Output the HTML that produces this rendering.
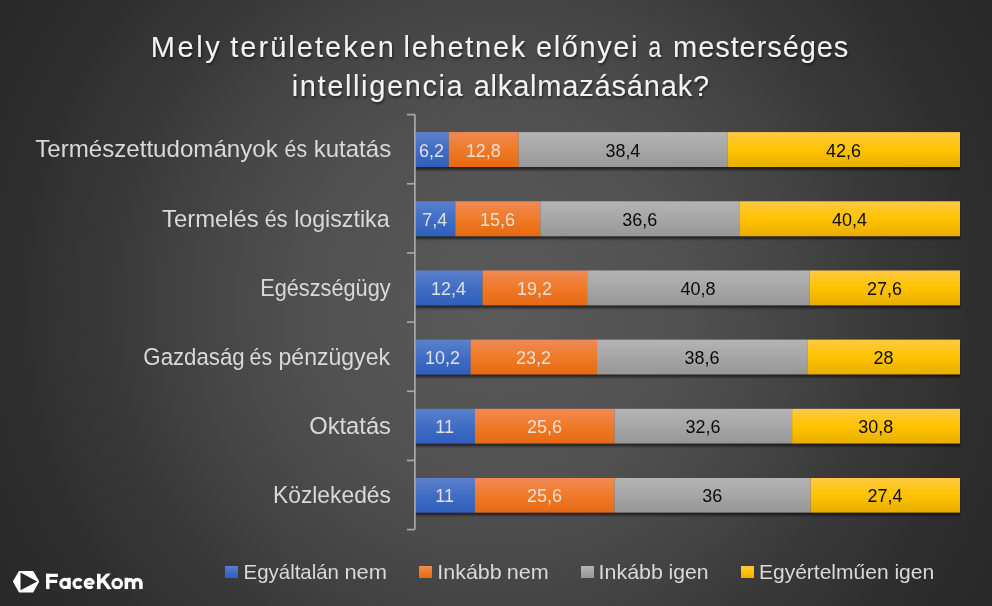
<!DOCTYPE html><html><head><meta charset="utf-8"><style>html,body{margin:0;padding:0;background:#333;}svg{display:block;}text{font-family:"Liberation Sans",sans-serif;}svg{will-change:transform;}</style></head><body>
<svg width="992" height="606" viewBox="0 0 992 606">
<defs>
<radialGradient id="bg" cx="496" cy="303" r="580" gradientUnits="userSpaceOnUse"><stop offset="0" stop-color="rgb(90,90,90)"/><stop offset="0.267" stop-color="rgb(82,82,82)"/><stop offset="0.32" stop-color="rgb(81,81,81)"/><stop offset="0.51" stop-color="rgb(69,69,69)"/><stop offset="0.54" stop-color="rgb(67,67,67)"/><stop offset="0.683" stop-color="rgb(55,55,55)"/><stop offset="0.767" stop-color="rgb(51,51,51)"/><stop offset="0.828" stop-color="rgb(46,46,46)"/><stop offset="1" stop-color="rgb(40,40,40)"/></radialGradient>
<linearGradient id="gb" x1="0" y1="0" x2="0" y2="1"><stop offset="0" stop-color="#5B81CD"/><stop offset="0.5" stop-color="#416DC4"/><stop offset="1" stop-color="#2F5FBD"/></linearGradient>
<linearGradient id="go" x1="0" y1="0" x2="0" y2="1"><stop offset="0" stop-color="#F08A55"/><stop offset="0.5" stop-color="#F07A28"/><stop offset="1" stop-color="#E66A12"/></linearGradient>
<linearGradient id="gg" x1="0" y1="0" x2="0" y2="1"><stop offset="0" stop-color="#B4B4B4"/><stop offset="0.5" stop-color="#A6A6A6"/><stop offset="1" stop-color="#979797"/></linearGradient>
<linearGradient id="gy" x1="0" y1="0" x2="0" y2="1"><stop offset="0" stop-color="#FFCA44"/><stop offset="0.5" stop-color="#FFC300"/><stop offset="1" stop-color="#E8AD00"/></linearGradient>
<filter id="sh" x="-5%" y="-30%" width="110%" height="170%"><feGaussianBlur in="SourceAlpha" stdDeviation="1.1"/><feOffset dx="0" dy="2.5" result="b"/><feComponentTransfer><feFuncA type="linear" slope="0.55"/></feComponentTransfer><feMerge><feMergeNode/><feMergeNode in="SourceGraphic"/></feMerge></filter>
<filter id="tsh" x="-5%" y="-30%" width="110%" height="170%"><feGaussianBlur in="SourceAlpha" stdDeviation="1"/><feOffset dx="1" dy="1.5" result="b"/><feComponentTransfer><feFuncA type="linear" slope="0.5"/></feComponentTransfer><feMerge><feMergeNode/><feMergeNode in="SourceGraphic"/></feMerge></filter>
</defs>
<rect width="992" height="606" fill="url(#bg)"/>
<g filter="url(#sh)">
<rect x="415.00" y="132.10" width="33.79" height="34.90" fill="url(#gb)"/>
<rect x="448.79" y="132.10" width="69.76" height="34.90" fill="url(#go)"/>
<rect x="518.55" y="132.10" width="209.28" height="34.90" fill="url(#gg)"/>
<rect x="727.83" y="132.10" width="232.17" height="34.90" fill="url(#gy)"/>
<rect x="415.00" y="201.28" width="40.33" height="34.81" fill="url(#gb)"/>
<rect x="455.33" y="201.28" width="85.02" height="34.81" fill="url(#go)"/>
<rect x="540.35" y="201.28" width="199.47" height="34.81" fill="url(#gg)"/>
<rect x="739.82" y="201.28" width="220.18" height="34.81" fill="url(#gy)"/>
<rect x="415.00" y="270.46" width="67.58" height="34.72" fill="url(#gb)"/>
<rect x="482.58" y="270.46" width="104.64" height="34.72" fill="url(#go)"/>
<rect x="587.22" y="270.46" width="222.36" height="34.72" fill="url(#gg)"/>
<rect x="809.58" y="270.46" width="150.42" height="34.72" fill="url(#gy)"/>
<rect x="415.00" y="339.64" width="55.59" height="34.63" fill="url(#gb)"/>
<rect x="470.59" y="339.64" width="126.44" height="34.63" fill="url(#go)"/>
<rect x="597.03" y="339.64" width="210.37" height="34.63" fill="url(#gg)"/>
<rect x="807.40" y="339.64" width="152.60" height="34.63" fill="url(#gy)"/>
<rect x="415.00" y="408.82" width="59.95" height="34.54" fill="url(#gb)"/>
<rect x="474.95" y="408.82" width="139.52" height="34.54" fill="url(#go)"/>
<rect x="614.47" y="408.82" width="177.67" height="34.54" fill="url(#gg)"/>
<rect x="792.14" y="408.82" width="167.86" height="34.54" fill="url(#gy)"/>
<rect x="415.00" y="478.00" width="59.95" height="34.45" fill="url(#gb)"/>
<rect x="474.95" y="478.00" width="139.52" height="34.45" fill="url(#go)"/>
<rect x="614.47" y="478.00" width="196.20" height="34.45" fill="url(#gg)"/>
<rect x="810.67" y="478.00" width="149.33" height="34.45" fill="url(#gy)"/>
</g>
<g stroke="#A8A8A8" stroke-width="1.7" fill="none">
<line x1="414.9" y1="114.6" x2="414.9" y2="529.6"/>
<line x1="407" y1="114.60" x2="414.9" y2="114.60"/>
<line x1="407" y1="183.77" x2="414.9" y2="183.77"/>
<line x1="407" y1="252.93" x2="414.9" y2="252.93"/>
<line x1="407" y1="322.10" x2="414.9" y2="322.10"/>
<line x1="407" y1="391.27" x2="414.9" y2="391.27"/>
<line x1="407" y1="460.43" x2="414.9" y2="460.43"/>
<line x1="407" y1="529.60" x2="414.9" y2="529.60"/>
</g>
<text x="431.59" y="156.85" font-size="17.8" fill="#E0E0E0" text-anchor="middle" transform="translate(431.59 0) scale(1.01 1) translate(-431.59 0)">6,2</text>
<text x="483.37" y="156.85" font-size="17.8" fill="#ECE0D8" text-anchor="middle" transform="translate(483.37 0) scale(1.01 1) translate(-483.37 0)">12,8</text>
<text x="622.89" y="156.85" font-size="17.8" fill="#0A0A0A" text-anchor="middle" transform="translate(622.89 0) scale(1.01 1) translate(-622.89 0)">38,4</text>
<text x="843.62" y="156.85" font-size="17.8" fill="#0A0A0A" text-anchor="middle" transform="translate(843.62 0) scale(1.01 1) translate(-843.62 0)">42,6</text>
<text x="434.87" y="225.87" font-size="17.8" fill="#E0E0E0" text-anchor="middle" transform="translate(434.87 0) scale(1.01 1) translate(-434.87 0)">7,4</text>
<text x="497.54" y="225.87" font-size="17.8" fill="#ECE0D8" text-anchor="middle" transform="translate(497.54 0) scale(1.01 1) translate(-497.54 0)">15,6</text>
<text x="639.79" y="225.87" font-size="17.8" fill="#0A0A0A" text-anchor="middle" transform="translate(639.79 0) scale(1.01 1) translate(-639.79 0)">36,6</text>
<text x="849.61" y="225.87" font-size="17.8" fill="#0A0A0A" text-anchor="middle" transform="translate(849.61 0) scale(1.01 1) translate(-849.61 0)">40,4</text>
<text x="448.49" y="294.89" font-size="17.8" fill="#E0E0E0" text-anchor="middle" transform="translate(448.49 0) scale(1.01 1) translate(-448.49 0)">12,4</text>
<text x="534.60" y="294.89" font-size="17.8" fill="#ECE0D8" text-anchor="middle" transform="translate(534.60 0) scale(1.01 1) translate(-534.60 0)">19,2</text>
<text x="698.10" y="294.89" font-size="17.8" fill="#0A0A0A" text-anchor="middle" transform="translate(698.10 0) scale(1.01 1) translate(-698.10 0)">40,8</text>
<text x="884.49" y="294.89" font-size="17.8" fill="#0A0A0A" text-anchor="middle" transform="translate(884.49 0) scale(1.01 1) translate(-884.49 0)">27,6</text>
<text x="442.50" y="363.91" font-size="17.8" fill="#E0E0E0" text-anchor="middle" transform="translate(442.50 0) scale(1.01 1) translate(-442.50 0)">10,2</text>
<text x="533.51" y="363.91" font-size="17.8" fill="#ECE0D8" text-anchor="middle" transform="translate(533.51 0) scale(1.01 1) translate(-533.51 0)">23,2</text>
<text x="701.91" y="363.91" font-size="17.8" fill="#0A0A0A" text-anchor="middle" transform="translate(701.91 0) scale(1.01 1) translate(-701.91 0)">38,6</text>
<text x="883.40" y="363.91" font-size="17.8" fill="#0A0A0A" text-anchor="middle" transform="translate(883.40 0) scale(1.01 1) translate(-883.40 0)">28</text>
<text x="444.68" y="432.93" font-size="17.8" fill="#E0E0E0" text-anchor="middle" transform="translate(444.68 0) scale(1.01 1) translate(-444.68 0)">11</text>
<text x="544.41" y="432.93" font-size="17.8" fill="#ECE0D8" text-anchor="middle" transform="translate(544.41 0) scale(1.01 1) translate(-544.41 0)">25,6</text>
<text x="703.01" y="432.93" font-size="17.8" fill="#0A0A0A" text-anchor="middle" transform="translate(703.01 0) scale(1.01 1) translate(-703.01 0)">32,6</text>
<text x="875.77" y="432.93" font-size="17.8" fill="#0A0A0A" text-anchor="middle" transform="translate(875.77 0) scale(1.01 1) translate(-875.77 0)">30,8</text>
<text x="444.68" y="501.95" font-size="17.8" fill="#E0E0E0" text-anchor="middle" transform="translate(444.68 0) scale(1.01 1) translate(-444.68 0)">11</text>
<text x="544.41" y="501.95" font-size="17.8" fill="#ECE0D8" text-anchor="middle" transform="translate(544.41 0) scale(1.01 1) translate(-544.41 0)">25,6</text>
<text x="712.27" y="501.95" font-size="17.8" fill="#0A0A0A" text-anchor="middle" transform="translate(712.27 0) scale(1.01 1) translate(-712.27 0)">36</text>
<text x="885.04" y="501.95" font-size="17.8" fill="#0A0A0A" text-anchor="middle" transform="translate(885.04 0) scale(1.01 1) translate(-885.04 0)">27,4</text>
<rect x="225" y="566" width="13" height="12" fill="url(#gb)"/>
<rect x="419" y="566" width="13" height="12" fill="url(#go)"/>
<rect x="581" y="566" width="13" height="12" fill="url(#gg)"/>
<rect x="741" y="566" width="13" height="12" fill="url(#gy)"/>
<path d='M19.4 570.9 L32.8 570.9 Q33.2 570.9 33.4 571.3 L39 581.1 Q39.2 581.6 39 582.1 L33.4 592.1 Q33.2 592.5 32.8 592.5 L19.4 592.5 Q19 592.5 18.8 592.1 L13.1 582.1 Q12.9 581.6 13.1 581.1 L18.8 571.3 Q19 570.9 19.4 570.9 Z' fill='#FFFFFF'/><path d='M20.5 572.5 L37.2 581.6 L20.5 590.2 Z' fill='#282828'/><clipPath id='lgc'><rect x='40' y='573.6' width='110' height='15.7'/></clipPath><g fill='none' stroke='#FFFFFF' clip-path='url(#lgc)'>
<path d='M47.8 573.6 V589.3' stroke-width='3.4'/><path d='M46.1 575.25 H57.9 M46.1 581.4 H57.2' stroke-width='3.3'/>
<circle cx='64.95' cy='583.55' r='4.1' stroke-width='3.2'/><path d='M69.05 577.8 V589.3' stroke-width='3.2'/>
<path d='M81.33 581.03 A4.1 4.1 0 1 0 81.33 586.07' stroke-width='3.2'/>
<path d='M85.2 583.65 H93.6' stroke-width='2.3'/><path d='M93.4 583.55 A4.1 4.1 0 1 0 92.44 586.19' stroke-width='3.2'/>
<path d='M98.8 573.6 V589.3' stroke-width='3.6'/><path d='M109.6 572.6 L99.8 582.6' stroke-width='3.4'/><path d='M103.2 580.4 L110.2 590.0' stroke-width='3.5'/>
<circle cx='117.2' cy='583.6' r='4.3' stroke-width='3.1'/>
<path d='M126.35 589.3 V577.8 M126.35 583.1 A3.63 3.63 0 0 1 133.6 583.1 V589.3 M133.6 583.1 A3.63 3.63 0 0 1 140.95 583.1 V589.3' stroke-width='3.5'/>
</g>
<text x="150.64" y="57.00" font-size="29" fill="#F2F2F2" textLength="69.1" lengthAdjust="spacing" filter="url(#tsh)">Mely</text>
<text x="230.29" y="57.00" font-size="29" fill="#F2F2F2" textLength="163.72" lengthAdjust="spacing" filter="url(#tsh)">területeken</text>
<text x="403.47" y="57.00" font-size="29" fill="#F2F2F2" textLength="121.88" lengthAdjust="spacing" filter="url(#tsh)">lehetnek</text>
<text x="536.05" y="57.00" font-size="29" fill="#F2F2F2" textLength="101.34" lengthAdjust="spacing" filter="url(#tsh)">előnyei</text>
<text x="648.18" y="57.00" font-size="29" fill="#F2F2F2" textLength="12.9" lengthAdjust="spacingAndGlyphs" filter="url(#tsh)">a</text>
<text x="673.07" y="57.00" font-size="29" fill="#F2F2F2" textLength="175.28" lengthAdjust="spacing" filter="url(#tsh)">mesterséges</text>
<text x="291.69" y="95.70" font-size="29" fill="#F2F2F2" textLength="171.02" lengthAdjust="spacing" filter="url(#tsh)">intelligencia</text>
<text x="473.65" y="95.70" font-size="29" fill="#F2F2F2" textLength="235.44" lengthAdjust="spacing" filter="url(#tsh)">alkalmazásának?</text>
<text x="35.21" y="157.30" font-size="24.5" fill="#D9D9D9" textLength="242.59" lengthAdjust="spacingAndGlyphs">Természettudományok</text>
<text x="284.58" y="157.30" font-size="24.5" fill="#D9D9D9" textLength="22.46" lengthAdjust="spacingAndGlyphs">és</text>
<text x="313.64" y="157.30" font-size="24.5" fill="#D9D9D9" textLength="77.55" lengthAdjust="spacingAndGlyphs">kutatás</text>
<text x="162.01" y="226.50" font-size="24.5" fill="#D9D9D9" textLength="96.75" lengthAdjust="spacingAndGlyphs">Termelés</text>
<text x="264.77" y="226.50" font-size="24.5" fill="#D9D9D9" textLength="22.69" lengthAdjust="spacingAndGlyphs">és</text>
<text x="294.13" y="226.50" font-size="24.5" fill="#D9D9D9" textLength="95.46" lengthAdjust="spacingAndGlyphs">logisztika</text>
<text x="260.24" y="295.70" font-size="24.5" fill="#D9D9D9" textLength="130.39" lengthAdjust="spacingAndGlyphs">Egészségügy</text>
<text x="143.35" y="364.90" font-size="24.5" fill="#D9D9D9" textLength="101.31" lengthAdjust="spacingAndGlyphs">Gazdaság</text>
<text x="249.57" y="364.90" font-size="24.5" fill="#D9D9D9" textLength="22.57" lengthAdjust="spacingAndGlyphs">és</text>
<text x="278.5" y="364.90" font-size="24.5" fill="#D9D9D9" textLength="111.48" lengthAdjust="spacingAndGlyphs">pénzügyek</text>
<text x="309.23" y="434.10" font-size="24.5" fill="#D9D9D9" textLength="81.76" lengthAdjust="spacingAndGlyphs">Oktatás</text>
<text x="272.98" y="503.30" font-size="24.5" fill="#D9D9D9" textLength="118.02" lengthAdjust="spacingAndGlyphs">Közlekedés</text>
<text x="243.6" y="579.00" font-size="21" fill="#D9D9D9" textLength="95.4" lengthAdjust="spacingAndGlyphs">Egyáltalán</text>
<text x="344.43" y="579.00" font-size="21" fill="#D9D9D9" textLength="42.67" lengthAdjust="spacingAndGlyphs">nem</text>
<text x="437.33" y="579.00" font-size="21" fill="#D9D9D9" textLength="64.39" lengthAdjust="spacingAndGlyphs">Inkább</text>
<text x="506.75" y="579.00" font-size="21" fill="#D9D9D9" textLength="42.03" lengthAdjust="spacingAndGlyphs">nem</text>
<text x="598.64" y="579.00" font-size="21" fill="#D9D9D9" textLength="64.29" lengthAdjust="spacingAndGlyphs">Inkább</text>
<text x="668.6" y="579.00" font-size="21" fill="#D9D9D9" textLength="40.04" lengthAdjust="spacingAndGlyphs">igen</text>
<text x="758.93" y="579.00" font-size="21" fill="#D9D9D9" textLength="129.68" lengthAdjust="spacingAndGlyphs">Egyértelműen</text>
<text x="894.4" y="579.00" font-size="21" fill="#D9D9D9" textLength="39.83" lengthAdjust="spacingAndGlyphs">igen</text>
</svg></body></html>
